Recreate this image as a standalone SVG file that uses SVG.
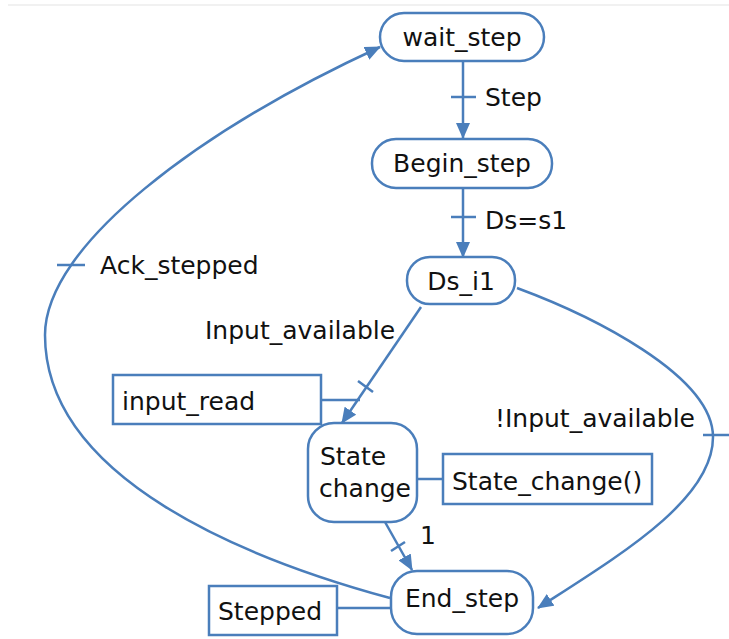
<svg xmlns="http://www.w3.org/2000/svg" width="729" height="639" viewBox="0 0 729 639">
<style>
.node{fill:#fff;stroke:#4a7ebb;stroke-width:2.5}
.box{fill:#fff;stroke:#4a7ebb;stroke-width:2.5}
.t{font-family:"DejaVu Sans",Verdana,sans-serif;font-size:25px;fill:#111}
.c{text-anchor:middle}
.e{text-anchor:end}
.edge{fill:none;stroke:#4a7ebb;stroke-width:2.5}
.tick{stroke:#4a7ebb;stroke-width:2.5}
</style>
<defs>
<marker id="arr" markerWidth="16" markerHeight="14" refX="15" refY="7" orient="auto" markerUnits="userSpaceOnUse">
<path d="M0,0 L16,7 L0,14 z" fill="#4a7ebb"/>
</marker>
</defs>
<rect width="729" height="639" fill="#fff"/>
<line x1="8" y1="5" x2="729" y2="5" stroke="#ececec" stroke-width="1.5"/>
<g id="connectors">
<path class="edge" d="M463,61 L463,138" marker-end="url(#arr)"/>
<line class="tick" x1="451" y1="97" x2="476" y2="97"/>
<path class="edge" d="M463,188 L463,257" marker-end="url(#arr)"/>
<line class="tick" x1="451" y1="217" x2="476" y2="217"/>
<path class="edge" d="M421,307 L342,423" marker-end="url(#arr)"/>
<line class="tick" x1="358" y1="381" x2="373" y2="392"/>
<path class="edge" d="M321,400 L360,400"/>
<path class="edge" d="M417,479 L443,479"/>
<path class="edge" d="M385,522 L412,570" marker-end="url(#arr)"/>
<line class="tick" x1="391" y1="551" x2="405" y2="542"/>
<path class="edge" d="M337,608 L391,608"/>
<path class="edge" d="M390,598 C250,560 45,480 45,335 C45,245 200,130 380,47" marker-end="url(#arr)"/>
<line class="tick" x1="57" y1="265" x2="85" y2="265"/>
<path class="edge" d="M517,288 C590,315 713,375 713,437 C713,500 620,555 538,608" marker-end="url(#arr)"/>
<line class="tick" x1="703" y1="435" x2="729" y2="435"/>
<text class="t" x="485" y="106">Step</text>
<text class="t" x="485" y="229">Ds=s1</text>
<text class="t" x="100" y="274">Ack_stepped</text>
<text class="t" x="205" y="339">Input_available</text>
<text class="t e" x="695" y="427">!Input_available</text>
<text class="t" x="420" y="544">1</text>
</g>
<g id="wait_step">
<rect class="node" x="380" y="13" width="164" height="48" rx="24"/>
<text class="t c" x="462" y="46">wait_step</text>
</g>
<g id="begin_step">
<rect class="node" x="372" y="139" width="180" height="49" rx="24"/>
<text class="t c" x="462" y="172">Begin_step</text>
</g>
<g id="ds_i1">
<rect class="node" x="407" y="257" width="108" height="47" rx="23"/>
<text class="t c" x="461" y="290">Ds_i1</text>
</g>
<g id="input_read">
<rect class="box" x="113" y="375" width="208" height="49"/>
<text class="t" x="122" y="410">input_read</text>
</g>
<g id="state_change">
<rect class="node" x="308" y="423" width="109" height="99" rx="26"/>
<text class="t" x="320" y="465">State</text>
<text class="t" x="319" y="497">change</text>
</g>
<g id="state_change_action">
<rect class="box" x="443" y="454" width="209" height="50"/>
<text class="t" x="452" y="490">State_change()</text>
</g>
<g id="end_step">
<rect class="node" x="391" y="571" width="142" height="63" rx="26"/>
<text class="t c" x="462" y="607">End_step</text>
</g>
<g id="stepped">
<rect class="box" x="209" y="586" width="128" height="49"/>
<text class="t" x="218" y="620">Stepped</text>
</g>
</svg>
